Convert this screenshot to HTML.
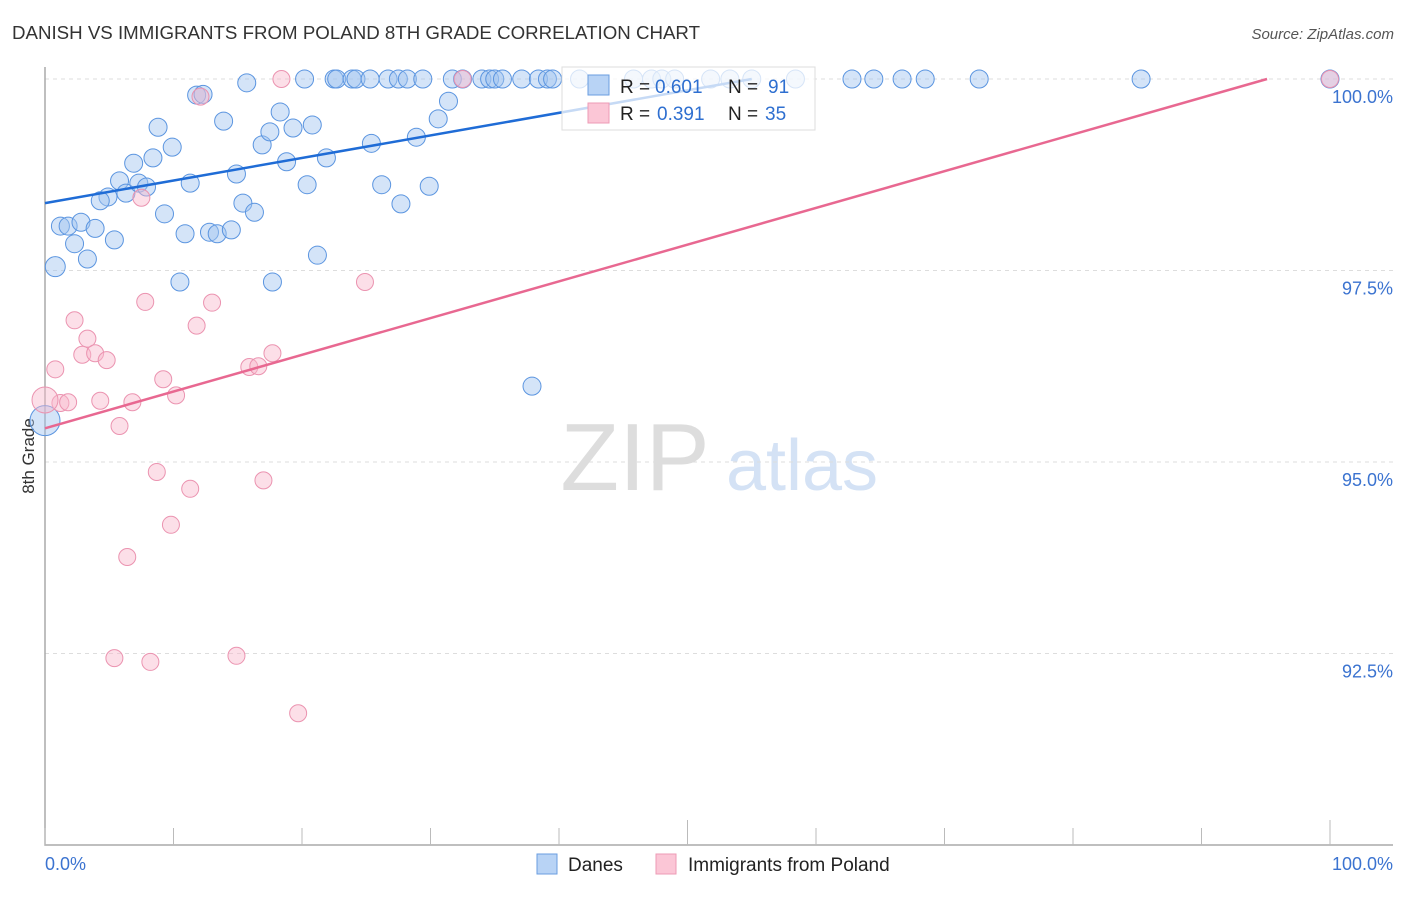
<!DOCTYPE html>
<html><head><meta charset="utf-8"><style>
body{margin:0;background:#fff;font-family:"Liberation Sans",sans-serif;}
svg text{font-family:"Liberation Sans",sans-serif;}
</style></head><body>
<svg id="c" width="1406" height="892">
<text x="12" y="39" font-size="18" fill="#333" textLength="688" lengthAdjust="spacingAndGlyphs">DANISH VS IMMIGRANTS FROM POLAND 8TH GRADE CORRELATION CHART</text>
<text x="1394" y="39" font-size="15" fill="#555" text-anchor="end" font-style="italic">Source: ZipAtlas.com</text>
<text transform="translate(34,456) rotate(-90)" font-size="17" fill="#333" text-anchor="middle">8th Grade</text>
<g><text x="635" y="490" font-size="96" fill="#ddd" font-family="Liberation Serif" text-anchor="middle">ZIP</text><text x="802" y="490" font-size="72" fill="#d4e2f5" text-anchor="middle">atlas</text></g>
<g id="grid"></g><g id="axes"></g><g id="marks"></g><g id="lines"></g>
<g>
<rect x="562" y="67" width="253" height="63" fill="rgba(255,255,255,0.75)" stroke="#ddd"/>
<rect x="588" y="75" width="21" height="20" fill="#b8d3f5" stroke="#6a9ee0"/>
<rect x="588" y="103" width="21" height="20" fill="#fbc6d6" stroke="#ee9bb5"/>
<text x="620" y="93" font-size="19" fill="#222">R =</text>
<text x="655" y="93" font-size="19" fill="#2e6fd0">0.601</text>
<text x="728" y="93" font-size="19" fill="#222">N =</text>
<text x="768" y="93" font-size="19" fill="#2e6fd0">91</text>
<text x="620" y="120" font-size="19" fill="#222">R =</text>
<text x="657" y="120" font-size="19" fill="#2e6fd0">0.391</text>
<text x="728" y="120" font-size="19" fill="#222">N =</text>
<text x="765" y="120" font-size="19" fill="#2e6fd0">35</text>
</g>
<g>
<rect x="537" y="854" width="20" height="20" fill="#b8d3f5" stroke="#6a9ee0"/>
<text x="568" y="871" font-size="19" fill="#222">Danes</text>
<rect x="656" y="854" width="20" height="20" fill="#fbc6d6" stroke="#ee9bb5"/>
<text x="688" y="871" font-size="19" fill="#222">Immigrants from Poland</text>
</g>
</svg>
<script>
const yTicks=[100,97.5,95,92.5];
const yTickLabels=["100.0%","97.5%","95.0%","92.5%"];
const xTicks=[0,10,20,30,40,50,60,70,80,90,100];
const danesX=[0.8,1.2,1.8,2.8,3.9,2.3,3.3,5.4,4.9,4.3,5.8,6.3,6.9,7.3,7.9,8.4,8.8,9.3,9.9,10.5,10.9,11.3,11.8,12.3,12.8,13.4,13.9,14.5,14.9,15.4,16.3,15.7,16.9,17.5,17.7,18.3,18.8,19.3,20.4,20.8,21.2,21.9,25.4,26.2,27.7,28.9,29.9,30.6,31.4,37.9,0.0,20.2,22.5,22.7,23.9,24.2,25.3,26.7,27.5,28.2,29.4,31.7,32.5,34.0,34.6,35.0,35.6,37.1,38.4,39.1,39.5,41.6,45.8,47.2,48.0,49.0,51.8,53.3,55.0,58.4,62.8,64.5,66.7,68.5,72.7,85.3,100];
const danesY=[97.55,98.08,98.08,98.13,98.05,97.85,97.65,97.9,98.46,98.41,98.67,98.51,98.9,98.64,98.59,98.97,99.37,98.24,99.11,97.35,97.98,98.64,99.79,99.8,98.0,97.98,99.45,98.03,98.76,98.38,98.26,99.95,99.14,99.31,97.35,99.57,98.92,99.36,98.62,99.4,97.7,98.97,99.16,98.62,98.37,99.24,98.6,99.48,99.71,95.99,95.54,100,100,100,100,100,100,100,100,100,100,100,100,100,100,100,100,100,100,100,100,100,100,100,100,100,100,100,100,100,100,100,100,100,100,100,100];
const polandX=[18.4,32.5,100,12.1,7.5,0.8,2.3,3.3,2.9,3.9,4.8,7.8,11.8,13.0,9.2,10.2,15.9,16.6,17.7,24.9,1.2,1.8,4.3,6.8,5.8,8.7,11.3,17.0,9.8,6.4,5.4,8.2,14.9,19.7,0];
const polandY=[100,100,100,99.77,98.45,96.21,96.85,96.61,96.4,96.42,96.33,97.09,96.78,97.08,96.08,95.87,96.24,96.25,96.42,97.35,95.77,95.78,95.8,95.78,95.47,94.87,94.65,94.76,94.18,93.76,92.44,92.39,92.47,91.72,95.81];
const danesTrend=[[0,98.38],[55,100]];
const polandTrend=[[0,95.44],[95.1,100]];
const sx=v=>45+v*12.85, sy=v=>79+(100-v)*76.6;
const NS="http://www.w3.org/2000/svg";
function mk(p,t,a){const e=document.createElementNS(NS,t);for(const k in a)e.setAttribute(k,a[k]);document.getElementById(p).appendChild(e);return e;}
yTicks.forEach((t,i)=>{
 const g=mk('grid','line',{x1:45,x2:1393,y1:sy(t),y2:sy(t),stroke:'#ddd','stroke-dasharray':'4,4'});
 
 
 const l=mk('axes','text',{x:1393,y:sy(t)+24,'font-size':18,fill:'#3b73d0','text-anchor':'end'});
 l.textContent=yTickLabels[i];
 
 
});
const ax=mk('axes','path',{d:'M45 67V845H1393',stroke:'#aaa',fill:'none','stroke-width':1.5});


xTicks.forEach(t=>{
 const long=(t===50||t===100);
 const k=mk('axes','line',{x1:sx(t),x2:sx(t),y1:long?820:828,y2:845,stroke:'#bbb'});
 
 
});
const x0=mk('axes','text',{x:45,y:870,'font-size':18,fill:'#3b73d0'});x0.textContent='0.0%';


const x1=mk('axes','text',{x:1393,y:870,'font-size':18,fill:'#3b73d0','text-anchor':'end'});x1.textContent='100.0%';


danesX.forEach((x,i)=>{
 const big=(i===0||i===50);
 const c=mk('marks','circle',{cx:sx(x),cy:sy(danesY[i]),r:big?(i===50?15:10):9,fill:'rgba(160,196,240,0.45)',stroke:'#5b95e0','stroke-width':1});
 
 
});
polandX.forEach((x,i)=>{
 const c=mk('marks','circle',{cx:sx(x),cy:sy(polandY[i]),r:i===34?13:8.5,fill:'rgba(248,184,204,0.45)',stroke:'#eb93b0','stroke-width':1});
 
 
});
const l1=mk('lines','line',{x1:sx(danesTrend[0][0]),y1:sy(danesTrend[0][1]),x2:sx(danesTrend[1][0]),y2:sy(danesTrend[1][1]),stroke:'#1f6cd6','stroke-width':2.5});


const l2=mk('lines','line',{x1:sx(polandTrend[0][0]),y1:sy(polandTrend[0][1]),x2:sx(polandTrend[1][0]),y2:sy(polandTrend[1][1]),stroke:'#e86891','stroke-width':2.5});


</script>
</body></html>
